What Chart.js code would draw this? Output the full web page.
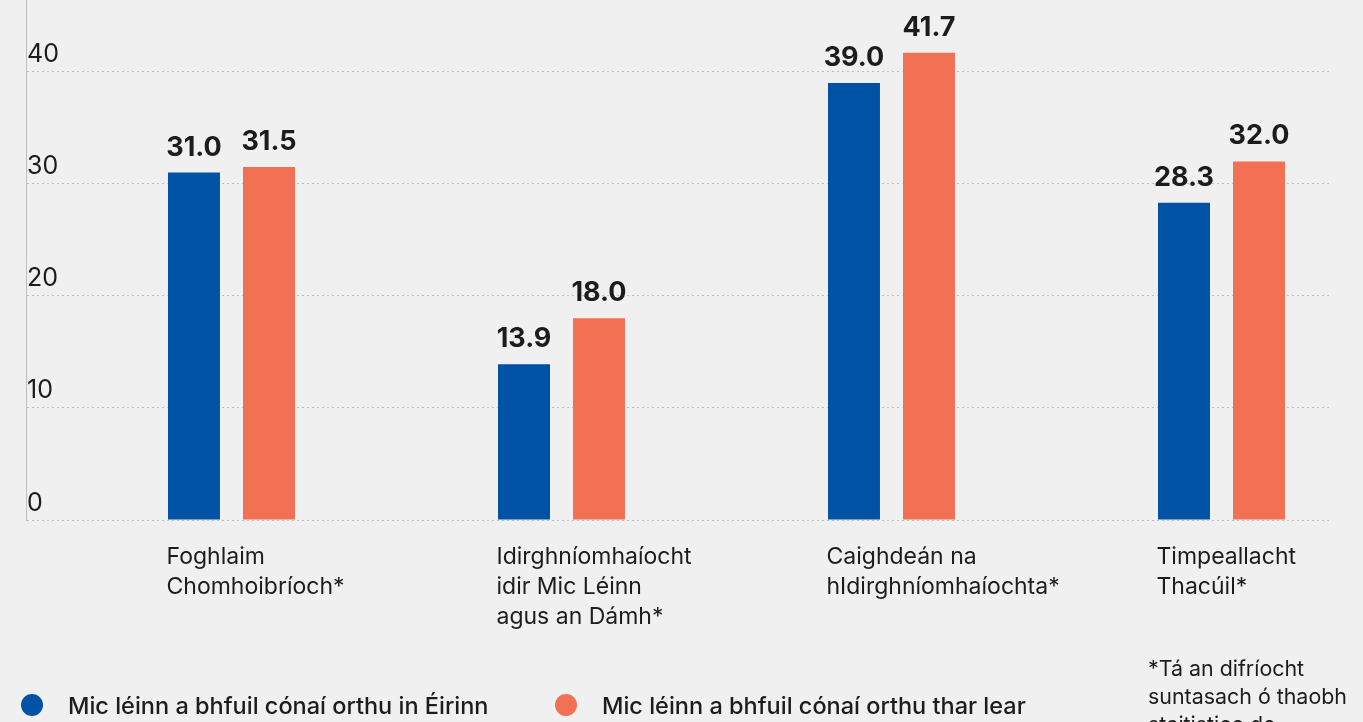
<!DOCTYPE html>
<html lang="ga">
<head>
<meta charset="UTF-8">
<title>Mic léinn in Éirinn agus thar lear</title>
<script src="https://cdn.jsdelivr.net/npm/chart.js@4.4.1/dist/chart.umd.min.js"></script>
<style>
    body {
        margin: 0;
        background: #f0f0f0;
        font-family: Inter, sans-serif;
        color: #1c1c1c;
        overflow: hidden;
    }
    #wrap {
        position: relative;
        width: 1363px;
        height: 722px;
    }
    #legend {
        position: absolute;
        left: 0;
        top: 693px;
        height: 24px;
        width: 1100px;
    }
    .item {
        position: absolute;
        top: 0;
        display: flex;
        align-items: center;
        height: 24px;
        font-size: 23.5px;
        font-weight: 500;
        white-space: nowrap;
    }
    .dot {
        width: 22px;
        height: 22px;
        border-radius: 50%;
        margin-right: 25px;
    }
    #note {
        position: absolute;
        left: 1148px;
        top: 654px;
        font-size: 21.4px;
        line-height: 28px;
        white-space: nowrap;
    }
</style>
</head>
<body>
<div id="wrap">
    <canvas id="chart" width="1363" height="722"></canvas>
    <div id="legend"></div>
    <div id="note">*Tá an difríocht<br>suntasach ó thaobh<br>staitistice de</div>
</div>

<script>
    const categories = [
        ['Foghlaim', 'Chomhoibríoch*'],
        ['Idirghníomhaíocht', 'idir Mic Léinn', 'agus an Dámh*'],
        ['Caighdeán na', 'hIdirghníomhaíochta*'],
        ['Timpeallacht', 'Thacúil*']
    ];
    const seriesNames = ['Mic léinn a bhfuil cónaí orthu in Éirinn', 'Mic léinn a bhfuil cónaí orthu thar lear'];
    const irelandValues = [31.0, 13.9, 39.0, 28.3];
    const abroadValues = [31.5, 18.0, 41.7, 32.0];
    const yTicks = [0, 10, 20, 30, 40];

    const BLUE = '#0052a5';
    const ORANGE = '#f27054';

    function toPoints(values)
    {
        return values.map((v, i) => ({ x: i, y: v }));
    }

    function noPadding(scale)
    {
        scale.paddingTop = 0;
        scale.paddingBottom = 0;
        scale.paddingLeft = 0;
        scale.paddingRight = 0;
    }

    // number above every bar
    const valueLabels = {
        id: 'valueLabels',
        afterDatasetsDraw(chart)
        {
            const ctx = chart.ctx;
            ctx.save();
            ctx.font = 'bold 27px Inter';
            ctx.fillStyle = '#1c1c1c';
            ctx.textAlign = 'center';
            ctx.textBaseline = 'alphabetic';
            chart.data.datasets.forEach((ds, i) => {
                chart.getDatasetMeta(i).data.forEach((bar, j) => {
                    ctx.fillText(ds.data[j].y.toFixed(1), bar.x, bar.y - 17);
                });
            });
            ctx.restore();
        }
    };

    const chart = new Chart(document.getElementById('chart'), {
        type: 'bar',
        data: {
            datasets: [
                { label: seriesNames[0], data: toPoints(irelandValues), backgroundColor: BLUE },
                { label: seriesNames[1], data: toPoints(abroadValues), backgroundColor: ORANGE }
            ]
        },
        options: {
            responsive: false,
            animation: false,
            layout: { padding: { left: 0, right: 33, top: 0, bottom: 0 } },
            datasets: {
                bar: { categoryPercentage: 0.4545, barPercentage: 0.693 }
            },
            plugins: {
                legend: { display: false },
                tooltip: { enabled: false }
            },
            scales: {
                x: {
                    type: 'linear',
                    offset: false,
                    min: -0.6227,
                    max: 3.3288,
                    afterBuildTicks: (scale) => { scale.ticks = categories.map((c, i) => ({ value: i })); },
                    afterFit: (scale) => { scale.height = 202; noPadding(scale); },
                    grid: { display: false },
                    border: { display: false },
                    ticks: {
                        callback: (value) => categories[value],
                        align: 'start',
                        labelOffset: -65,
                        padding: 14,
                        maxRotation: 0,
                        autoSkip: false,
                        color: '#1c1c1c',
                        font: { family: 'Inter', size: 23, lineHeight: 30 / 23 }
                    }
                },
                y: {
                    min: 0,
                    max: 46.4,
                    afterBuildTicks: (scale) => { scale.ticks = yTicks.map(v => ({ value: v })); },
                    afterFit: (scale) => { scale.width = 26; noPadding(scale); },
                    grid: { color: '#bdbdbd', lineWidth: 1, drawTicks: false },
                    border: { display: true, color: '#bdbdbd', dash: [2, 3] },
                    ticks: {
                        mirror: true,
                        padding: 1,
                        labelOffset: -17,
                        color: '#1c1c1c',
                        font: { family: 'Inter', size: 25 }
                    }
                }
            }
        },
        plugins: [valueLabels]
    });

    // legend under the axis labels
    const legend = document.getElementById('legend');
    const legendLeft = [21, 555];
    chart.data.datasets.forEach((ds, i) => {
        const item = document.createElement('div');
        item.className = 'item';
        item.style.left = legendLeft[i] + 'px';
        const dot = document.createElement('span');
        dot.className = 'dot';
        dot.style.background = ds.backgroundColor;
        item.appendChild(dot);
        item.appendChild(document.createTextNode(ds.label));
        legend.appendChild(item);
    });
</script>
</body>
</html>
